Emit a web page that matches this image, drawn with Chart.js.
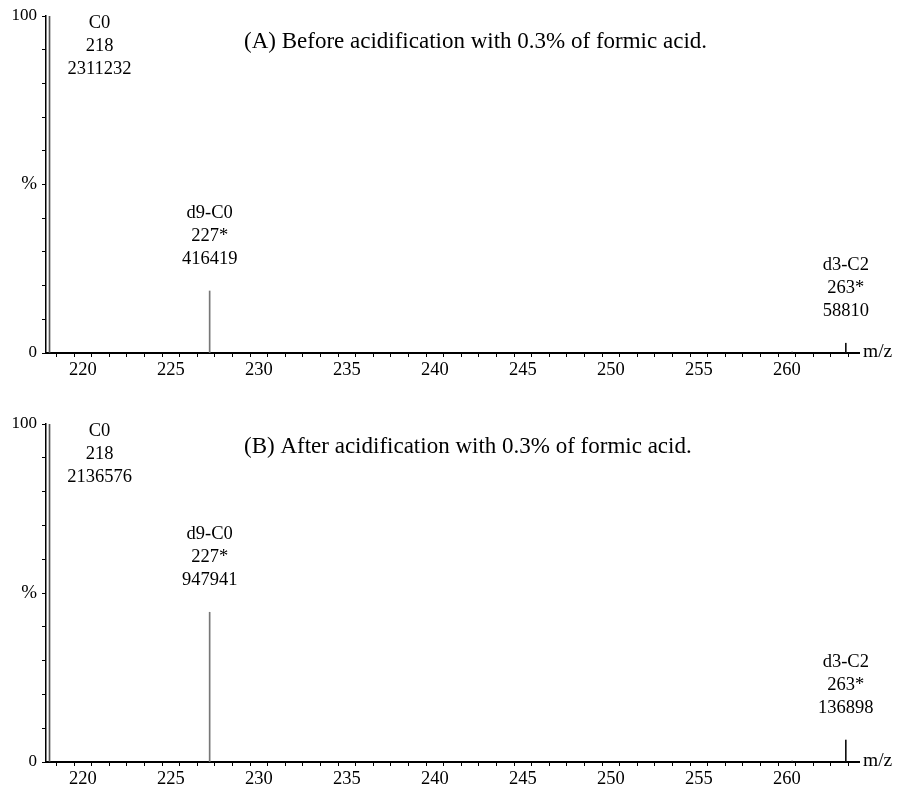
<!DOCTYPE html>
<html>
<head>
<meta charset="utf-8">
<script src="https://cdn.jsdelivr.net/npm/chart.js@4.4.1/dist/chart.umd.min.js"></script>
<style>
  html, body { margin: 0; padding: 0; background: #fff; }
  body { width: 903px; height: 792px; overflow: hidden; }
  .panel { position: relative; width: 903px; height: 396px; }
  canvas { display: block; }
</style>
</head>
<body>
<div class="panel"><canvas id="chartA" width="903" height="396"></canvas></div>
<div class="panel"><canvas id="chartB" width="903" height="396"></canvas></div>
<script>
// ---- data ----
const mzValues = [218.1, 227.2, 260.3, 263.35];
const intensityA = [100, 18.4, 0.3, 2.9];
const intensityB = [100, 44.3, 0.3, 6.5];
const peakNames = ["C0", "d9-C0", "", "d3-C2"];
const peakMzLabels = ["218", "227*", "", "263*"];
const countsA = ["2311232", "416419", "", "58810"];
const countsB = ["2136576", "947941", "", "136898"];
const titleA = "(A) Before acidification with 0.3% of formic acid.";
const titleB = "(B) After acidification with 0.3% of formic acid.";
const xMin = 217.9, xMax = 264.1;
const yTickLabels = { 0: "0", 50: "%", 100: "100" };

const FONT = "'Liberation Serif', 'Times New Roman', serif";
const peakColors = ["#555555", "#777777", "#333333", "#111111"];

function makeChart(id, values, counts, title, padTop, xHeight, titleY) {
  const annot = {
    id: 'annot_' + id,
    afterDatasetsDraw(chart) {
      const ctx = chart.ctx;
      const xs = chart.scales.x, ys = chart.scales.y, area = chart.chartArea;
      ctx.save();
      ctx.fillStyle = '#000';
      ctx.textAlign = 'center';
      ctx.textBaseline = 'middle';
      ctx.font = '18.5px ' + FONT;
      values.forEach((v, i) => {
        if (!peakNames[i]) return;
        const px = xs.getPixelForValue(mzValues[i]);
        const py = ys.getPixelForValue(v);
        const lines = [peakNames[i], peakMzLabels[i], counts[i]];
        let cx, y0;
        if (v >= 90) { cx = px + 50; y0 = area.top + 7; }
        else { cx = px; y0 = py - 32 - 46; }
        lines.forEach((t, k) => ctx.fillText(t, cx, y0 + k * 23));
      });
      // title
      ctx.textAlign = 'left';
      ctx.font = '23px ' + FONT;
      ctx.fillText(title, 244, titleY);
      // axis unit
      ctx.font = '19.5px ' + FONT;
      ctx.fillText('m/z', area.right + 4, area.bottom - 1);
      ctx.restore();
    }
  };
  return new Chart(document.getElementById(id), {
    type: 'bar',
    data: {
      datasets: [{
        data: mzValues.map((m, i) => ({ x: m, y: values[i] })),
        backgroundColor: peakColors,
        borderWidth: 0,
        barThickness: 1,
        grouped: false
      }]
    },
    options: {
      responsive: false,
      animation: false,
      events: [],
      layout: { padding: { top: padTop, left: 0, right: 44, bottom: 0 } },
      plugins: { legend: { display: false }, tooltip: { enabled: false }, title: { display: false } },
      scales: {
        x: {
          type: 'linear',
          min: xMin, max: xMax,
          offset: false,
          afterFit(s) { s.height = xHeight; },
          border: { display: true, color: '#000', width: 2 },
          grid: { display: true, drawOnChartArea: false, drawTicks: true, tickLength: 4, color: '#000', lineWidth: 1 },
          ticks: {
            stepSize: 1,
            includeBounds: false,
            autoSkip: false,
            maxRotation: 0,
            padding: 2,
            color: '#000',
            font: { family: FONT, size: 18.5 },
            callback: (v) => (Math.round(v) % 5 === 0 ? String(Math.round(v)) : '')
          }
        },
        y: {
          min: 0, max: 100,
          afterFit(s) { s.width = 46; },
          border: { display: true, color: '#000', width: 1.5 },
          grid: { display: true, drawOnChartArea: false, drawTicks: true, tickLength: 4, color: '#000', lineWidth: 1 },
          ticks: {
            stepSize: 10,
            autoSkip: false,
            padding: 5,
            color: '#000',
            font: (c) => ({ family: FONT, size: c.tick && c.tick.value === 50 ? 19 : 17 }),
            callback: (v) => (yTickLabels[v] !== undefined ? yTickLabels[v] : '')
          }
        }
      }
    },
    plugins: [annot]
  });
}

makeChart('chartA', intensityA, countsA, titleA, 16, 43, 42);
makeChart('chartB', intensityB, countsB, titleB, 28, 30, 51);
</script>
</body>
</html>
